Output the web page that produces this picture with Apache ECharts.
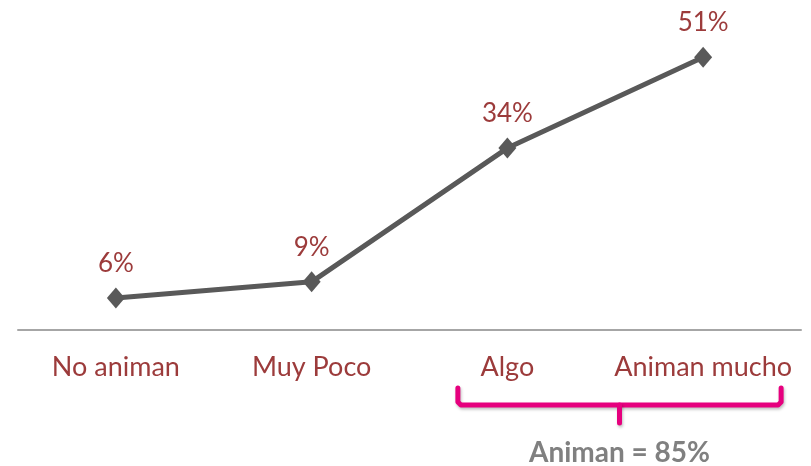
<!DOCTYPE html>
<html><head><meta charset="utf-8">
<script src="https://cdn.jsdelivr.net/npm/echarts@6/dist/echarts.min.js"></script>
<style>html,body{margin:0;padding:0;background:#fff}#c{width:811px;height:466px}</style>
</head><body><div id="c"></div>
<script>
const categories = ['No animan', 'Muy Poco', 'Algo', 'Animan mucho'];
const values = [6, 9, 34, 51];
const bracketText = 'Animan = 85%';
const FONT = 'Lato';
const chart = echarts.init(document.getElementById('c'));
chart.setOption({
  animation: false,
  grid: { left: 18, right: 10, top: 9, bottom: 136 },
  xAxis: {
    type: 'category', data: categories, boundaryGap: true,
    axisLine: { lineStyle: { color: '#A6A6A6', width: 2 } },
    axisTick: { show: false },
    axisLabel: { interval: 0, color: '#9C3B3B', fontSize: 27, fontFamily: FONT, margin: 24 }
  },
  yAxis: { type: 'value', min: 0, max: 60, show: false, splitLine: { show: false } },
  series: [{
    type: 'line', data: values,
    lineStyle: { color: '#595959', width: 5 },
    itemStyle: { color: '#595959' },
    symbol: 'diamond', symbolSize: [18, 21],
    label: { show: true, position: 'top', distance: 11, formatter: '{c}%', color: '#9C3B3B', fontSize: 26, fontFamily: FONT }
  }]
});
const x2 = chart.convertToPixel({ xAxisIndex: 0 }, 2);
const x3 = chart.convertToPixel({ xAxisIndex: 0 }, 3);
const y0 = chart.convertToPixel({ yAxisIndex: 0 }, 0);
const bL = x2 - 49.5, bR = x3 + 78, bM = (bL + bR) / 2;
const bTop = y0 + 58, bMid = y0 + 75, bBot = y0 + 93;
const shadow = { shadowBlur: 3, shadowColor: 'rgba(0,0,0,0.25)', shadowOffsetX: 1, shadowOffsetY: 2 };
chart.setOption({
  graphic: [
    { type: 'polyline', shape: { points: [[bL, bTop], [bL, bMid - 3], [bL + 3, bMid], [bR - 3, bMid], [bR, bMid - 3], [bR, bTop]] }, style: Object.assign({ stroke: '#E6007E', lineWidth: 5, fill: null, lineJoin: 'round', lineCap: 'round' }, shadow) },
    { type: 'line', shape: { x1: bM, y1: bMid, x2: bM, y2: bBot }, style: Object.assign({ stroke: '#E6007E', lineWidth: 5, lineCap: 'round' }, shadow) },
    { type: 'text', x: bM, y: y0 + 123, style: { text: bracketText, fill: '#808080', font: 'bold 28px Lato', align: 'center', verticalAlign: 'middle' } }
  ]
});
</script></body></html>
